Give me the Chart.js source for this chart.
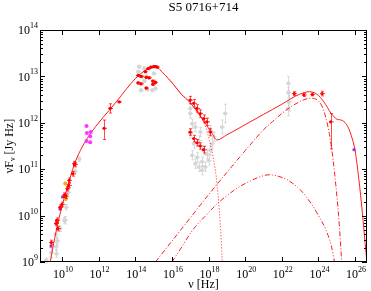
<!DOCTYPE html>
<html>
<head>
<meta charset="utf-8">
<script src="https://cdn.jsdelivr.net/npm/chart.js@4.4.0/dist/chart.umd.min.js"></script>
<style>
  body { margin: 0; background: #fff; }
  #wrap { width: 371px; height: 291px; }
</style>
</head>
<body>
<div id="wrap"><canvas id="sed" width="371" height="291"></canvas></div>
<script>
// ===== Datos (log10 de nu [Hz] y de nuFnu [Jy Hz]) =====
const titulo = "S5 0716+714";
const xTicksExp = [10, 12, 14, 16, 18, 20, 22, 24, 26];
const yTicksExp = [9, 10, 11, 12, 13, 14];

// modelo total (línea continua)
const totalNu = [9.36, 9.5, 9.7, 10.0, 10.3, 10.67, 11.0, 11.4, 12.0, 12.6, 13.0, 13.5, 14.0, 14.5, 14.8, 15.1, 15.5, 16.1, 16.55, 16.92, 17.3, 17.64, 17.9, 18.2, 18.45, 19.0, 20.0, 21.0, 22.0, 22.5, 23.0, 23.5, 23.9, 24.3, 24.7, 25.0, 25.3, 25.6, 25.85, 26.0, 26.2, 26.4, 26.55, 26.65];
const totalF  = [9.0, 9.3, 9.7, 10.2, 10.62, 11.1, 11.4, 11.68, 12.0, 12.28, 12.47, 12.72, 12.95, 13.12, 13.19, 13.21, 13.08, 12.82, 12.6, 12.47, 12.28, 12.09, 11.94, 11.77, 11.63, 11.74, 11.96, 12.18, 12.4, 12.52, 12.62, 12.67, 12.62, 12.45, 12.2, 12.08, 12.05, 11.92, 11.65, 11.4, 10.8, 10.05, 9.4, 9.0];

// sincrotrón (punteada)
const sincNu = [14.5, 15.1, 15.5, 16.1, 16.55, 16.92, 17.3, 17.64, 17.85, 18.05, 18.28, 18.46, 18.64, 18.75];
const sincF  = [13.12, 13.21, 13.08, 12.82, 12.6, 12.47, 12.28, 12.09, 11.9, 11.62, 11.2, 10.69, 9.82, 9.0];

// componente inverso Compton (raya-punto)
const icNu = [15.1, 16.0, 17.0, 18.0, 19.0, 20.0, 20.5, 21.0, 21.5, 22.0, 22.4, 23.0, 23.55, 24.0, 24.3, 24.6, 24.8, 24.95, 25.1, 25.27];
const icF  = [9.0, 9.45, 9.95, 10.45, 10.93, 11.4, 11.63, 11.85, 12.03, 12.2, 12.32, 12.46, 12.53, 12.47, 12.25, 11.75, 11.2, 10.65, 10.0, 9.0];

// segundo componente (joroba inferior)
const ec2Nu = [16.0, 16.5, 17.1, 17.8, 18.46, 19.0, 19.64, 20.3, 21.0, 21.3, 21.7, 22.3, 23.0, 23.6, 24.0, 24.4, 24.7, 24.88];
const ec2F  = [9.0, 9.3, 9.67, 9.98, 10.25, 10.43, 10.61, 10.75, 10.86, 10.88, 10.86, 10.77, 10.56, 10.26, 10.0, 9.7, 9.35, 9.0];

// datos simultáneos (rojo)
const rojoNu = [9.42, 9.67, 9.71, 9.77, 9.9, 10.0, 10.13, 10.22, 10.3, 10.36, 10.4, 10.58, 10.67, 10.7,
  12.3, 12.63, 13.12,
  14.55, 14.7, 14.85, 15.0, 15.1, 15.2,
  14.15, 14.3, 14.6, 14.75, 14.95,
  14.15, 14.3, 14.6, 14.95, 15.1,
  17.0, 17.19, 17.37, 17.55, 17.73, 17.91, 18.1,
  17.0, 17.19, 17.37, 17.55, 17.73,
  22.68, 23.2, 23.67, 24.2, 24.67];
const rojoF = [9.42, 9.83, 9.9, 9.72, 10.18, 10.24, 10.44, 10.42, 10.58, 10.65, 10.76, 10.9, 11.12, 11.1,
  11.88, 12.31, 12.45,
  13.1, 13.17, 13.2, 13.21, 13.21, 13.2,
  13.02, 13.0, 12.98, 12.97, 12.9,
  12.86, 12.84, 12.75, 12.83, 12.87,
  12.49, 12.42, 12.31, 12.2, 12.09, 12.02, 11.8,
  11.8, 11.66, 11.57, 11.5, 11.42,
  12.63, 12.6, 12.61, 12.63, 12.02];
const rojoErrAbajo = [0.05, 0.05, 0.05, 0.05, 0.05, 0.05, 0.05, 0.05, 0.05, 0.05, 0.05, 0.05, 0.05, 0.05,
  0.24, 0.1, 0,
  0.02, 0.02, 0.02, 0.02, 0.02, 0.02,
  0.02, 0.02, 0.02, 0.02, 0.02,
  0.02, 0.02, 0.02, 0.02, 0.02,
  0.08, 0.08, 0.08, 0.08, 0.08, 0.08, 0.08,
  0.07, 0.07, 0.07, 0.07, 0.07,
  0.04, 0.03, 0.03, 0.05, 0.58];
const rojoErrArriba = [0.05, 0.05, 0.05, 0.05, 0.05, 0.05, 0.05, 0.05, 0.05, 0.05, 0.05, 0.05, 0.05, 0.05,
  0.18, 0.1, 0,
  0.02, 0.02, 0.02, 0.02, 0.02, 0.02,
  0.02, 0.02, 0.02, 0.02, 0.02,
  0.02, 0.02, 0.02, 0.02, 0.02,
  0.08, 0.08, 0.08, 0.08, 0.08, 0.08, 0.08,
  0.07, 0.07, 0.07, 0.07, 0.07,
  0.04, 0.03, 0.03, 0.05, 0.18];

// datos de archivo (gris)
const grisNu = [9.13, 9.4, 9.67, 9.7, 9.65, 9.75, 9.89, 10.13, 10.18, 10.22, 10.35, 10.7, 10.94,
  14.2, 14.47, 14.74, 15.0, 14.35, 14.6, 14.3, 14.65, 14.92, 15.1, 14.15, 14.5,
  17.0, 17.1, 17.0, 17.19, 17.1, 17.28, 17.46, 17.64, 17.82, 18.0, 18.1, 17.91, 17.37, 17.64, 18.19, 18.28, 17.46, 17.73, 17.28, 17.55, 18.1, 18.9, 18.73, 17.0,
  22.36, 22.36, 22.38, 22.34];
const grisF = [9.03, 9.2, 9.33, 9.18, 9.6, 9.45, 9.72, 9.9, 9.9, 10.18, 10.5, 10.95, 11.22,
  13.21, 13.17, 13.17, 13.06, 12.99, 13.0, 12.7, 12.72, 12.7, 12.74, 13.1, 12.9,
  12.2, 11.98, 11.77, 11.55, 11.3, 11.12, 11.05, 10.98, 11.05, 11.19, 11.41, 11.33, 11.26, 11.16, 11.55, 11.7, 11.62, 11.41, 11.91, 11.8, 11.84, 12.2, 11.91, 12.31,
  12.85, 12.65, 12.45, 12.3];
const grisErr = [0.05, 0.1, 0.08, 0.08, 0.1, 0.08, 0.06, 0.06, 0.08, 0.06, 0.05, 0.05, 0.05,
  0.03, 0.03, 0.03, 0.03, 0.03, 0.03, 0.03, 0.03, 0.03, 0.03, 0.03, 0.03,
  0.1, 0.1, 0.1, 0.1, 0.1, 0.1, 0.1, 0.1, 0.1, 0.1, 0.1, 0.1, 0.1, 0.1, 0.1, 0.1, 0.1, 0.1, 0.1, 0.1, 0.1, 0.2, 0.15, 0.1,
  0.15, 0.12, 0.2, 0.15];

// otros conjuntos
const magentaNu = [11.34, 11.36, 11.57, 11.54, 11.34, 11.54];
const magentaF  = [11.93, 11.78, 11.8, 11.71, 11.61, 11.58];
const violetaNu = [9.4, 9.89, 10.03, 25.94];
const violetaF  = [9.34, 10.14, 10.4, 11.42];
const naranjaNu = [10.18, 10.2];
const naranjaF  = [10.69, 10.36];

// ===== Utilidades =====
const puntos = (xs, ys) => xs.map((v, i) => ({ x: 10 ** v, y: 10 ** ys[i] }));
const FUENTE = "'Liberation Serif', 'Times New Roman', serif";

function linea(xs, ys, dash, orden) {
  return {
    type: 'line',
    data: puntos(xs, ys),
    borderColor: '#ff1a1a',
    borderWidth: 1,
    borderDash: dash,
    pointRadius: 0,
    showLine: true,
    fill: false,
    cubicInterpolationMode: 'monotone',
    order: orden
  };
}

// ===== Plugin: barras de error, marco, marcas y textos =====
const ejes = {
  id: 'ejes',
  beforeDatasetDraw(chart, args) {
    const ds = chart.data.datasets[args.index];
    if (!ds.errAbajo) return;
    const ctx = chart.ctx;
    const sx = chart.scales.x, sy = chart.scales.y;
    ctx.save();
    ctx.strokeStyle = ds.colorError;
    ctx.lineWidth = 1;
    ds.data.forEach((p, i) => {
      const px = Math.round(sx.getPixelForValue(p.x)) + 0.5;
      const yA = sy.getPixelForValue(p.y * 10 ** ds.errArriba[i]);
      const yB = sy.getPixelForValue(p.y / 10 ** ds.errAbajo[i]);
      const py = sy.getPixelForValue(p.y);
      ctx.beginPath();
      ctx.moveTo(px, yA); ctx.lineTo(px, yB);
      ctx.moveTo(px - 1.5, yA); ctx.lineTo(px + 1.5, yA);
      ctx.moveTo(px - 1.5, yB); ctx.lineTo(px + 1.5, yB);
      ctx.moveTo(px - 2.5, py); ctx.lineTo(px + 2.5, py);
      ctx.stroke();
    });
    ctx.restore();
  },
  afterDraw(chart) {
    const ctx = chart.ctx;
    const a = chart.chartArea;
    const sx = chart.scales.x, sy = chart.scales.y;
    ctx.save();
    ctx.strokeStyle = '#000';
    ctx.lineWidth = 1;
    ctx.strokeRect(a.left + 0.5, a.top + 0.5, a.right - a.left - 1, a.bottom - a.top - 1);

    ctx.beginPath();
    xTicksExp.forEach(e => {
      const px = Math.round(sx.getPixelForValue(10 ** e)) + 0.5;
      ctx.moveTo(px, a.bottom); ctx.lineTo(px, a.bottom - 5);
      ctx.moveTo(px, a.top); ctx.lineTo(px, a.top + 5);
    });
    yTicksExp.forEach(e => {
      for (let m = 1; m <= 9; m++) {
        const v = m * 10 ** e;
        if (v > 1e14) break;
        const py = Math.round(sy.getPixelForValue(v)) + 0.5;
        const len = m === 1 ? 5 : 3;
        ctx.moveTo(a.left, py); ctx.lineTo(a.left + len, py);
        ctx.moveTo(a.right, py); ctx.lineTo(a.right - len, py);
      }
    });
    ctx.stroke();

    ctx.fillStyle = '#000';
    ctx.textBaseline = 'middle';
    ctx.textAlign = 'left';
    const base = '12px ' + FUENTE, sup = '8px ' + FUENTE;
    function potencia(e, x, y, alinear) {
      ctx.font = base; const wb = ctx.measureText('10').width;
      ctx.font = sup; const we = ctx.measureText(String(e)).width;
      const x0 = alinear === 'derecha' ? x - wb - we : x - (wb + we) / 2;
      ctx.font = base; ctx.fillText('10', x0, y);
      ctx.font = sup; ctx.fillText(String(e), x0 + wb, y - 5);
    }
    xTicksExp.forEach(e => potencia(e, sx.getPixelForValue(10 ** e) + 1, a.bottom + 13, 'centro'));
    yTicksExp.forEach(e => potencia(e, a.left - 2, sy.getPixelForValue(10 ** e) + 1, 'derecha'));

    // título
    ctx.font = '13px ' + FUENTE;
    ctx.textAlign = 'center';
    ctx.fillText(titulo, (a.left + a.right) / 2, 8);

    // eje x
    ctx.font = '12px ' + FUENTE;
    ctx.fillText('\u03bd [Hz]', (a.left + a.right) / 2, a.bottom + 23);

    // eje y
    ctx.translate(10, (a.top + a.bottom) / 2);
    ctx.rotate(-Math.PI / 2);
    ctx.textAlign = 'left';
    ctx.font = '12px ' + FUENTE;
    const w1 = ctx.measureText('\u03bdF').width;
    const w3 = ctx.measureText(' [Jy Hz]').width;
    ctx.font = '8px ' + FUENTE;
    const w2 = ctx.measureText('\u03bd').width;
    let x0 = -(w1 + w2 + w3) / 2;
    ctx.font = '12px ' + FUENTE;
    ctx.fillText('\u03bdF', x0, 0);
    ctx.font = '8px ' + FUENTE;
    ctx.fillText('\u03bd', x0 + w1, 3);
    ctx.font = '12px ' + FUENTE;
    ctx.fillText(' [Jy Hz]', x0 + w1 + w2, 0);
    ctx.restore();
  }
};

// ===== Gráfica =====
new Chart(document.getElementById('sed'), {
  type: 'scatter',
  data: {
    datasets: [
      {
        data: puntos(grisNu, grisF),
        errAbajo: grisErr, errArriba: grisErr,
        colorError: 'rgba(210,210,210,0.8)',
        backgroundColor: 'rgba(212,212,212,0.9)',
        pointRadius: 2, borderWidth: 0, order: 20
      },
      linea(totalNu, totalF, [], 10),
      linea(sincNu, sincF, [1, 2], 11),
      linea(icNu, icF, [5, 2, 1, 2], 12),
      linea(ec2Nu, ec2F, [5, 2, 1, 2, 1, 2], 13),
      {
        data: puntos(magentaNu, magentaF),
        backgroundColor: '#ff33ff', pointRadius: 2, borderWidth: 0, order: 3
      },
      {
        data: puntos(naranjaNu, naranjaF),
        backgroundColor: '#ffa500', pointRadius: 2, borderWidth: 0, order: 3
      },
      {
        data: puntos(violetaNu, violetaF),
        backgroundColor: '#9933cc', pointStyle: 'rect', pointRadius: 2, borderWidth: 0, order: 3
      },
      {
        data: puntos(rojoNu, rojoF),
        errAbajo: rojoErrAbajo, errArriba: rojoErrArriba,
        colorError: 'rgba(255,0,0,0.7)',
        backgroundColor: '#ff0000', pointRadius: 1.6, borderWidth: 0, order: 1
      }
    ]
  },
  options: {
    responsive: false,
    animation: false,
    layout: { padding: { left: 40, right: 2, top: 30, bottom: 29 } },
    plugins: {
      legend: { display: false },
      tooltip: { enabled: false },
      title: { display: false }
    },
    scales: {
      x: { type: 'logarithmic', min: 10 ** 8.8, max: 10 ** 26.65, display: false },
      y: { type: 'logarithmic', min: 1e9, max: 1e14, display: false }
    }
  },
  plugins: [ejes]
});
</script>
</body>
</html>
